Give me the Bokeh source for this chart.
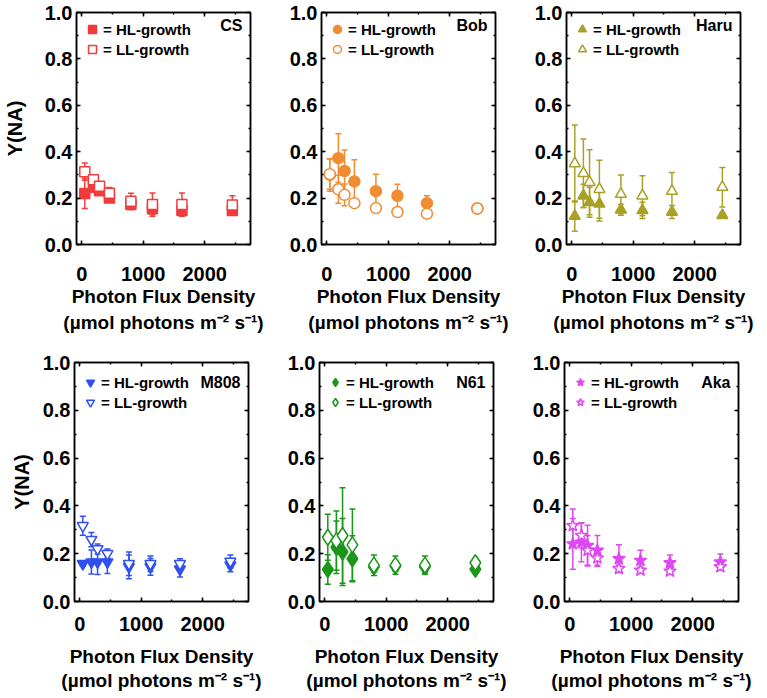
from bokeh.plotting import figure
from bokeh.models import (ColumnDataSource, Whisker, TeeHead, Legend, LegendItem, Label,
                          LinearAxis, SingleIntervalTicker, Range1d, CustomJSTickFormatter,
                          PrintfTickFormatter)
from bokeh.layouts import row, column
from bokeh.embed import file_html
from bokeh.resources import INLINE

# ---------------- data ----------------
PFD = [50, 190, 290, 450, 800, 1150, 1630, 2450]

CS_HL = [0.220, 0.247, 0.232, 0.200, 0.172, 0.154, 0.147, 0.147]
CS_HL_ERR = [0.065, 0.020, 0.015, 0.012, 0.018, 0.025, 0.020, 0.015]
CS_LL = [0.314, 0.279, 0.251, 0.221, 0.186, 0.172, 0.172, 0.170]
CS_LL_ERR = [0.037, 0.015, 0.020, 0.025, 0.035, 0.050, 0.050, 0.040]

BOB_HL = [0.300, 0.372, 0.317, 0.272, 0.230, 0.210, 0.178, 0.155]
BOB_HL_ERR = [0.070, 0.105, 0.090, 0.093, 0.073, 0.050, 0.032, 0.010]
BOB_LL = [0.303, 0.238, 0.214, 0.178, 0.157, 0.140, 0.133, 0.155]
BOB_LL_ERR = [0.065, 0.060, 0.047, 0.015, 0.015, 0.015, 0.015, 0.010]

HARU_HL = [0.122, 0.210, 0.182, 0.175, 0.150, 0.147, 0.140, 0.126]
HARU_HL_ERR = [0.065, 0.050, 0.065, 0.074, 0.024, 0.035, 0.028, 0.010]
HARU_LL = [0.349, 0.307, 0.268, 0.238, 0.217, 0.210, 0.230, 0.247]
HARU_LL_ERR = [0.166, 0.148, 0.140, 0.125, 0.083, 0.086, 0.080, 0.085]

M808_HL = [0.158, 0.165, 0.165, 0.165, 0.145, 0.145, 0.135, 0.152]
M808_HL_ERR = [0.010, 0.050, 0.052, 0.048, 0.050, 0.035, 0.032, 0.028]
M808_LL = [0.317, 0.259, 0.220, 0.200, 0.158, 0.158, 0.158, 0.168]
M808_LL_ERR = [0.040, 0.030, 0.021, 0.020, 0.049, 0.032, 0.021, 0.027]

N61_HL = [0.134, 0.227, 0.207, 0.179, 0.145, 0.148, 0.145, 0.135]
N61_HL_ERR = [0.062, 0.110, 0.140, 0.096, 0.021, 0.020, 0.025, 0.010]
N61_LL = [0.269, 0.255, 0.276, 0.237, 0.152, 0.152, 0.152, 0.162]
N61_LL_ERR = [0.096, 0.124, 0.200, 0.150, 0.043, 0.038, 0.038, 0.015]

AKA_HL = [0.241, 0.248, 0.234, 0.214, 0.179, 0.172, 0.162, 0.165]
AKA_HL_ERR = [0.106, 0.082, 0.085, 0.062, 0.058, 0.042, 0.033, 0.034]
AKA_LL = [0.317, 0.276, 0.214, 0.182, 0.138, 0.131, 0.127, 0.145]
AKA_LL_ERR = [0.070, 0.052, 0.062, 0.036, 0.015, 0.012, 0.012, 0.012]

STRAINS = ["CS", "Bob", "Haru", "M808", "N61", "Aka"]
SERIES = {
    "CS": (CS_HL, CS_HL_ERR, CS_LL, CS_LL_ERR),
    "Bob": (BOB_HL, BOB_HL_ERR, BOB_LL, BOB_LL_ERR),
    "Haru": (HARU_HL, HARU_HL_ERR, HARU_LL, HARU_LL_ERR),
    "M808": (M808_HL, M808_HL_ERR, M808_LL, M808_LL_ERR),
    "N61": (N61_HL, N61_HL_ERR, N61_LL, N61_LL_ERR),
    "Aka": (AKA_HL, AKA_HL_ERR, AKA_LL, AKA_LL_ERR),
}
COLORS = {"CS": "#F03C3C", "Bob": "#F08C32", "Haru": "#A9A127",
          "M808": "#3050F0", "N61": "#1A961A", "Aka": "#DD48F2"}
MARKERS = {"CS": ("square", 10), "Bob": ("circle", 11),
           "Haru": ("triangle", 11), "M808": ("inverted_triangle", 11),
           "N61": ("diamond", 16), "Aka": ("star", 13)}

X_LABEL = "Photon Flux Density\n(\u00b5mol photons m\u207b\u00b2 s\u207b\u00b9)"
Y_LABEL = "Y(NA)"
FONT = "Liberation Sans"
BLACK = "black"


def style_axis(ax, labels=True):
    ax.axis_line_color = BLACK
    ax.axis_line_width = 1.5
    ax.major_tick_line_color = BLACK
    ax.minor_tick_line_color = BLACK
    ax.major_tick_line_width = 1.5
    ax.minor_tick_line_width = 1.5
    ax.major_tick_in = 4
    ax.major_tick_out = 0
    ax.minor_tick_in = 2
    ax.minor_tick_out = 0
    ax.major_label_text_font = FONT
    ax.major_label_text_font_style = "bold"
    ax.major_label_text_color = BLACK
    if labels:
        ax.major_label_text_font_size = "20px"
    else:
        ax.formatter = CustomJSTickFormatter(code="return ''")
        ax.major_label_text_font_size = "0px"
        ax.major_label_standoff = 0


def make_panel(name, col, rowi):
    hl, hl_err, ll, ll_err = SERIES[name]
    color = COLORS[name]
    marker, size = MARKERS[name]
    lefts = [74, 37, 37]
    rights = [34, 34, 18]
    if rowi == 0:
        fh, top, bottom = 232, 12, 106
        tick_so, lab_so, line_h = 22, 2, 1.25
        leg_y, name_y = fh - 47, 0.945
    else:
        fh, top, bottom = 239, 12, 80
        tick_so, lab_so, line_h = 15, 12, 1.15
        leg_y, name_y = fh - 50, 0.915
    p = figure(frame_width=174, frame_height=fh,
               x_range=Range1d(-85, 2745), y_range=Range1d(0, 1.0),
               output_backend="svg", toolbar_location=None, tools="",
               min_border_left=lefts[col], min_border_right=rights[col],
               min_border_top=top, min_border_bottom=bottom)
    p.grid.visible = False
    p.outline_line_color = BLACK
    p.outline_line_width = 1.5
    p.background_fill_color = "white"
    p.border_fill_color = "white"

    src = ColumnDataSource(dict(
        x=PFD, hl=hl, ll=ll,
        hl_up=[v + e for v, e in zip(hl, hl_err)], hl_lo=[v - e for v, e in zip(hl, hl_err)],
        ll_up=[v + e for v, e in zip(ll, ll_err)], ll_lo=[v - e for v, e in zip(ll, ll_err)],
    ))

    for up, lo in (("hl_up", "hl_lo"), ("ll_up", "ll_lo")):
        w = Whisker(source=src, base="x", upper=up, lower=lo, dimension="height",
                    line_color=color, line_width=1.5, level="underlay",
                    upper_head=TeeHead(size=6, line_color=color, line_width=1.5),
                    lower_head=TeeHead(size=6, line_color=color, line_width=1.5))
        p.add_layout(w)

    r_hl = p.scatter("x", "hl", source=src, marker=marker, size=size,
                     fill_color=color, line_color=color, line_width=1.5)
    r_ll = p.scatter("x", "ll", source=src, marker=marker, size=size,
                     fill_color="white", line_color=color, line_width=1.5)

    # axes
    p.xaxis.ticker = SingleIntervalTicker(interval=1000, num_minor_ticks=2)
    p.yaxis.ticker = SingleIntervalTicker(interval=0.2, num_minor_ticks=2)
    p.yaxis.formatter = PrintfTickFormatter(format="%.1f")
    style_axis(p.xaxis[0])
    style_axis(p.yaxis[0])
    p.xaxis.major_label_standoff = tick_so
    p.yaxis.major_label_standoff = 4
    p.xaxis.axis_label = X_LABEL
    p.xaxis.axis_label_text_font = FONT
    p.xaxis.axis_label_text_font_style = "bold"
    p.xaxis.axis_label_text_font_size = "19px"
    p.xaxis.axis_label_text_color = BLACK
    p.xaxis.axis_label_standoff = lab_so
    p.xaxis.axis_label_text_line_height = line_h
    if col == 0:
        p.yaxis.axis_label = Y_LABEL
        p.yaxis.axis_label_text_font = FONT
        p.yaxis.axis_label_text_font_style = "bold"
        p.yaxis.axis_label_text_font_size = "20px"
        p.yaxis.axis_label_text_color = BLACK
        p.yaxis.axis_label_standoff = 16 if rowi == 0 else 7

    top_ax = LinearAxis(ticker=SingleIntervalTicker(interval=1000, num_minor_ticks=2))
    right_ax = LinearAxis(ticker=SingleIntervalTicker(interval=0.2, num_minor_ticks=2))
    style_axis(top_ax, labels=False)
    style_axis(right_ax, labels=False)
    p.add_layout(top_ax, "above")
    p.add_layout(right_ax, "right")

    legend = Legend(items=[LegendItem(label="= HL-growth", renderers=[r_hl]),
                           LegendItem(label="= LL-growth", renderers=[r_ll])],
                    location=(5, leg_y), margin=0, padding=0, spacing=0,
                    glyph_width=22, glyph_height=20, label_standoff=0,
                    label_height=18,
                    label_text_font=FONT, label_text_font_style="bold",
                    label_text_font_size="15px", label_text_color=BLACK,
                    background_fill_alpha=0, border_line_alpha=0)
    p.add_layout(legend)

    p.add_layout(Label(x=2615, y=name_y, text=name, text_align="right", text_baseline="middle",
                       text_font=FONT, text_font_style="bold", text_font_size="16px",
                       text_color=BLACK))
    return p


panels = [make_panel(n, i % 3, i // 3) for i, n in enumerate(STRAINS)]
layout = column(row(*panels[:3]), row(*panels[3:]))

open("out.html", "w").write(file_html(layout, INLINE))
